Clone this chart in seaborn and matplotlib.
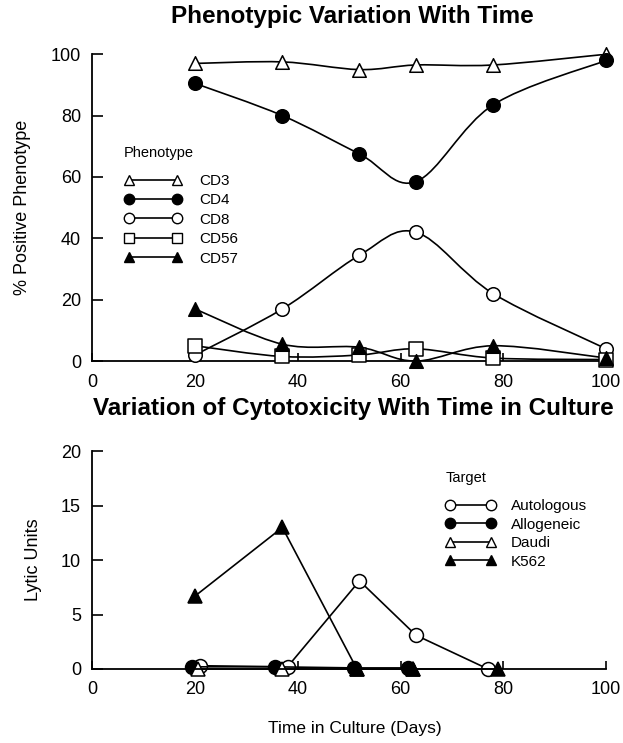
import numpy as np
import matplotlib
matplotlib.use("Agg")
import matplotlib.pyplot as plt
import seaborn as sns
from matplotlib.path import Path
from matplotlib.patches import PathPatch
from matplotlib.lines import Line2D

# phenotype panel
days_pheno = [20, 37, 52, 63, 78, 100]
cd3 = [97, 97.5, 95, 96.5, 96.5, 100]
cd4 = [90.5, 80, 67.5, 58.5, 83.5, 98]
cd8 = [2, 17, 34.5, 42, 22, 4]
cd56 = [5, 1.5, 2, 4, 1, 0.5]
cd57 = [17, 5.5, 4.5, 0, 5, 1]

# cytotoxicity panel
auto_x = [21, 38, 52, 63, 77]
auto_y = [0.3, 0.2, 8.1, 3.1, 0]
allo_x = [19.5, 35.5, 51, 61.5]
allo_y = [0.2, 0.2, 0.1, 0.1]
daudi_x = [20.5, 37, 51.5, 62.5]
daudi_y = [0, 0, 0, 0]
k562_x = [20, 37, 51.5, 62.5, 79]
k562_y = [6.7, 13, 0, 0, 0]

sns.set_style("ticks")
plt.rcParams['font.family'] = ['Liberation Sans', 'DejaVu Sans']
for k in ('text.color', 'axes.labelcolor', 'xtick.color', 'ytick.color', 'axes.edgecolor'):
    plt.rcParams[k] = 'black'

fig = plt.figure(figsize=(6.23, 7.43), dpi=100)
ax1 = fig.add_axes([0.148, 0.514, 0.825, 0.413])
ax2 = fig.add_axes([0.148, 0.0996, 0.825, 0.293])


def smooth_curve(ax, xs, ys):
    # smooth line through the points (Catmull-Rom as cubic Bezier)
    pts = np.column_stack([xs, ys]).astype(float)
    n = len(pts)
    verts = [pts[0]]
    codes = [Path.MOVETO]
    for i in range(n - 1):
        p0 = pts[max(i - 1, 0)]
        p1 = pts[i]
        p2 = pts[i + 1]
        p3 = pts[min(i + 2, n - 1)]
        verts += [p1 + (p2 - p0) / 6, p2 - (p3 - p1) / 6, p2]
        codes += [Path.CURVE4] * 3
    ax.add_patch(PathPatch(Path(verts, codes), fc='none', ec='black', lw=1.2, zorder=2))


pheno = [
    ("CD3", cd3, '^', 'white'),
    ("CD4", cd4, 'o', 'black'),
    ("CD8", cd8, 'o', 'white'),
    ("CD56", cd56, 's', 'white'),
    ("CD57", cd57, '^', 'black'),
]
handles = []
for name, vals, mk, fc in pheno:
    smooth_curve(ax1, days_pheno, vals)
    sns.scatterplot(ax=ax1, x=days_pheno, y=vals, marker=mk, s=95, color=fc,
                    edgecolor='black', linewidth=1.1, zorder=3, clip_on=False)
    handles.append(Line2D([], [], color='black', lw=1.2, marker=mk, ms=7.5,
                          mfc=fc, mec='black', mew=1.0))

leg = ax1.legend(handles, [p[0] for p in pheno], title="Phenotype", frameon=False,
                 numpoints=2, handlelength=3.8, fontsize=11, title_fontsize=10.5,
                 loc='upper left', bbox_to_anchor=(0.035, 0.745), labelspacing=0.35,
                 handletextpad=1.1)
leg._legend_box.align = "left"
leg._legend_box.sep = 10

ax1.set_xlim(0, 100)
ax1.set_ylim(0, 100)
ax1.set_xticks([0, 20, 40, 60, 80, 100])
ax1.set_yticks([0, 20, 40, 60, 80, 100])
ax1.set_ylabel("% Positive Phenotype", fontsize=13, labelpad=14)

cyto = [
    ("Autologous", auto_x, auto_y, 'o', 'white'),
    ("Allogeneic", allo_x, allo_y, 'o', 'black'),
    ("Daudi", daudi_x, daudi_y, '^', 'white'),
    ("K562", k562_x, k562_y, '^', 'black'),
]
handles2 = []
for name, xs, ys, mk, fc in cyto:
    sns.lineplot(ax=ax2, x=xs, y=ys, sort=False, color='black', lw=1.2,
                 marker=mk, markersize=10, markerfacecolor=fc,
                 markeredgecolor='black', markeredgewidth=1.1, clip_on=False)
    handles2.append(Line2D([], [], color='black', lw=1.2, marker=mk, ms=7.5,
                           mfc=fc, mec='black', mew=1.0))

leg2 = ax2.legend(handles2, [c[0] for c in cyto], title="Target", frameon=False,
                  numpoints=2, handlelength=3.3, fontsize=11, title_fontsize=10.5,
                  loc='upper left', bbox_to_anchor=(0.66, 0.972), labelspacing=0.3,
                  handletextpad=1.0)
leg2._legend_box.align = "left"
leg2._legend_box.sep = 10

ax2.set_xlim(0, 100)
ax2.set_ylim(0, 20)
ax2.set_xticks([0, 20, 40, 60, 80, 100])
ax2.set_yticks([0, 5, 10, 15, 20])
ax2.set_ylabel("Lytic Units", fontsize=13, labelpad=14)

for ax in (ax1, ax2):
    sns.despine(ax=ax)
    ax.spines['left'].set_linewidth(1.3)
    ax.spines['bottom'].set_linewidth(1.3)
    ax.tick_params(axis='both', direction='in', labelsize=13, width=1.2, colors='black')
    ax.tick_params(axis='y', length=8, pad=8)
    ax.tick_params(axis='x', length=6, pad=9)

fig.text(0.565, 1 - 17 / 743, "Phenotypic Variation With Time", ha='center', va='center',
         fontsize=17.5, fontweight='bold')
fig.text(0.568, 1 - 409 / 743, "Variation of Cytotoxicity With Time in Culture",
         ha='center', va='center', fontsize=17.5, fontweight='bold')
fig.text(0.57, 1 - 728 / 743, "Time in Culture (Days)", ha='center', va='center', fontsize=12.5)

fig.savefig("out.png", dpi=100)
